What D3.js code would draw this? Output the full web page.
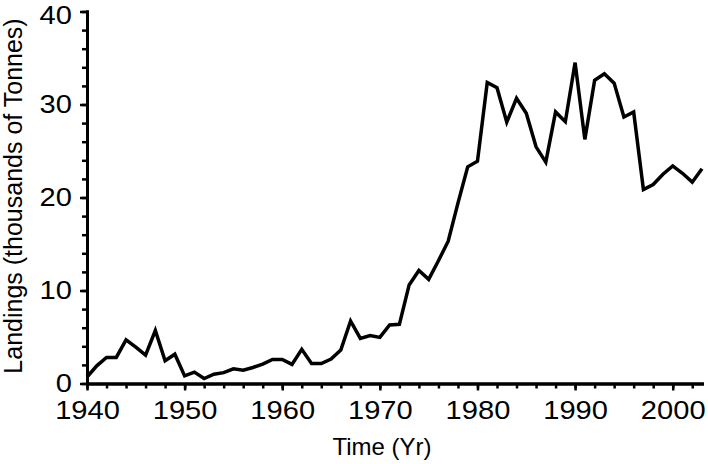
<!DOCTYPE html>
<html>
<head>
<meta charset="utf-8">
<script src="https://cdn.jsdelivr.net/npm/d3@7"></script>
<style>
  body { margin: 0; background: #fff; }
  svg { display: block; }
  .axis path, .axis line { stroke: #000; }
  .axis path { stroke-width: 3; stroke-linecap: square; }
  .axis line { stroke-width: 2.5; }
  .axis text { font-family: "Liberation Sans", Arial, sans-serif; font-size: 26px; fill: #000; }
  .label { font-family: "Liberation Sans", Arial, sans-serif; fill: #000; }
  .series { fill: none; stroke: #000; stroke-width: 3.5; stroke-linejoin: miter; }
</style>
</head>
<body>
<div id="chart"></div>
<script>
// landings per year, thousands of tonnes
const years = d3.range(1940, 2004);
const landings = [
  0.7, 1.9, 2.8, 2.8, 4.7, 3.9, 3.05, 5.7, 2.45, 3.15,
  0.82, 1.22, 0.54, 1.0, 1.17, 1.58, 1.43, 1.72, 2.08, 2.58,
  2.58, 2.05, 3.67, 2.15, 2.15, 2.62, 3.6, 6.72, 4.85, 5.15,
  4.96, 6.3, 6.36, 10.6, 12.15, 11.2, 13.2, 15.3, 19.4, 23.3,
  23.9, 32.36, 31.8, 28.1, 30.67, 29.05, 25.45, 23.8, 29.2, 28.15,
  34.5, 26.25, 32.6, 33.3, 32.3, 28.65, 29.2, 20.85, 21.4, 22.5,
  23.4, 22.6, 21.65, 23.1
];
const xMajor = [1940, 1950, 1960, 1970, 1980, 1990, 2000];
const yMajor = [0, 10, 20, 30, 40];

const width = 708, height = 464;

const svg = d3.select("#chart")
  .append("svg")
  .attr("width", width)
  .attr("height", height);

const x = d3.scaleLinear().domain([1940, 2003]).range([87, 702]);
const y = d3.scaleLinear().domain([0, 40]).range([383.5, 11.5]);

//minor ticks first, then the labelled ones
svg.append("g")
  .attr("class", "axis")
  .attr("transform", "translate(0," + y(0) + ")")
  .call(d3.axisBottom(x).tickValues(d3.range(1940, 2004, 2)).tickSize(5).tickSizeOuter(0).tickFormat(""));

svg.append("g")
  .attr("class", "axis")
  .attr("transform", "translate(0," + y(0) + ")")
  .call(d3.axisBottom(x).tickValues(xMajor).tickSize(7).tickSizeOuter(0).tickPadding(10).tickFormat(d3.format("d")))
  .selectAll("text")
    .attr("transform", "scale(1.12,1)");

svg.append("g")
  .attr("class", "axis")
  .attr("transform", "translate(" + x(1940) + ",0)")
  .call(d3.axisLeft(y).tickValues(d3.range(0, 41, 2)).tickSize(5).tickSizeOuter(0).tickFormat(""));

svg.append("g")
  .attr("class", "axis")
  .attr("transform", "translate(" + x(1940) + ",0)")
  .call(d3.axisLeft(y).tickValues(yMajor).tickSize(7).tickSizeOuter(0).tickPadding(8).tickFormat(d3.format("d")))
  .selectAll("text")
    .attr("transform", "translate(-15,0) scale(1.12,1) translate(15,0)")
    // top label sits a little under its tick in the original
    .attr("dy", d => d === 40 ? "0.47em" : "0.32em");

const line = d3.line()
  .x((d, i) => x(years[i]))
  .y(d => y(d));

svg.append("path")
  .datum(landings)
  .attr("class", "series")
  .attr("d", line);

// axis titles
svg.append("text")
  .attr("class", "label")
  .attr("x", 382)
  .attr("y", 455)
  .attr("text-anchor", "middle")
  .attr("font-size", 24)
  .text("Time (Yr)");

svg.append("text")
  .attr("class", "label")
  .attr("transform", "translate(22,196) rotate(-90)")
  .attr("text-anchor", "middle")
  .attr("font-size", 25)
  .text("Landings (thousands of Tonnes)");
</script>
</body>
</html>
